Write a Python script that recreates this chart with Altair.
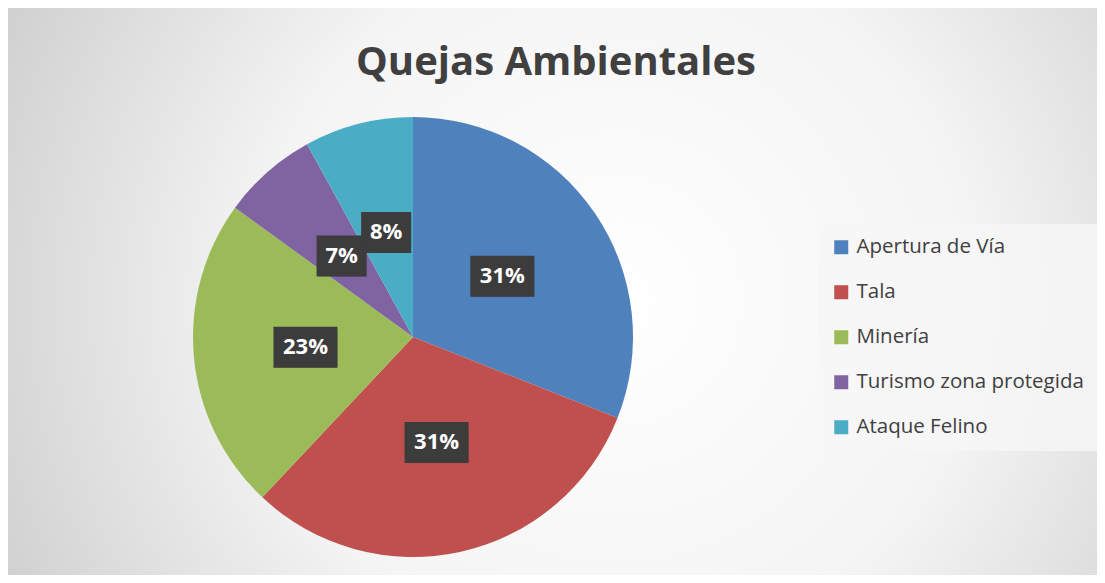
import altair as alt
import pandas as pd

# ---- data ----
categorias = ["Apertura de Vía", "Tala", "Minería", "Turismo zona protegida", "Ataque Felino"]
valores = [31, 31, 23, 7, 8]
colores = ["#4F81BD", "#C0504D", "#9BBB59", "#8064A2", "#4BACC6"]
titulo = "Quejas Ambientales"

df = pd.DataFrame({"categoria": categorias, "valor": valores, "orden": list(range(len(categorias)))})

W, H = 1089, 567
CX, CY = 405, 329
R = 220
RL = 108

gradient = {
    "gradient": "radial",
    "x1": 0.55, "y1": 0.5, "x2": 0.55, "y2": 0.5,
    "r1": 0, "r2": 0.72,
    "stops": [
        {"offset": 0, "color": "#ffffff"},
        {"offset": 0.45, "color": "#f4f4f4"},
        {"offset": 1, "color": "#c2c2c2"},
    ],
}

bg = alt.Chart(pd.DataFrame({"a": [0]})).mark_rect(
    color=gradient, stroke="#cfcfcf", strokeWidth=2
).encode(x=alt.value(-2), x2=alt.value(W + 20), y=alt.value(-2), y2=alt.value(H + 20))

title_mark = alt.Chart(pd.DataFrame({"t": [titulo]})).mark_text(
    font="Open Sans", fontSize=40, fontWeight="bold", color="#404040",
    align="center", baseline="alphabetic",
).encode(text="t:N", x=alt.value(548), y=alt.value(67))

base = alt.Chart(df)

pie = base.mark_arc(outerRadius=R).encode(
    theta=alt.Theta("valor:Q", stack=True),
    color=alt.Color(
        "categoria:N",
        sort=categorias,
        scale=alt.Scale(domain=categorias, range=colores),
        legend=alt.Legend(
            title=None, orient="none", legendX=810, legendY=216, direction="vertical",
            symbolType="square", symbolSize=196, symbolStrokeWidth=0,
            labelFont="Open Sans", labelFontSize=20.5, labelColor="#404040",
            labelOffset=5, rowPadding=24, padding=13, labelLimit=400,
            fillColor="rgba(246,246,246,0.8)",
        ),
    ),
    order=alt.Order("orden:Q"),
    x=alt.value(CX),
    y=alt.value(CY),
)

lab = base.transform_joinaggregate(total="sum(valor)").transform_window(
    cum="sum(valor)", sort=[alt.SortField("orden")], frame=[None, 0]
).transform_calculate(
    mid="(datum.cum - datum.valor/2)/datum.total*2*PI",
    px=f"{CX} + {RL}*sin(datum.mid)",
    py=f"{CY} - {RL}*cos(datum.mid)",
    txt="format(datum.valor/datum.total, '.0%')",
    w="14*length(datum.txt)+22",
    bx1="datum.px - datum.w/2",
    bx2="datum.px + datum.w/2",
    by1="datum.py - 20.5",
    by2="datum.py + 20.5",
)

shadow = lab.mark_rect(color="black", opacity=0.22, xOffset=3, yOffset=4).encode(
    x=alt.X("bx1:Q", scale=None, axis=None), x2="bx2:Q",
    y=alt.Y("by1:Q", scale=None, axis=None), y2="by2:Q",
)
boxes = lab.mark_rect(color="#3c3c3c").encode(
    x=alt.X("bx1:Q", scale=None, axis=None), x2="bx2:Q",
    y=alt.Y("by1:Q", scale=None, axis=None), y2="by2:Q",
)
texts = lab.mark_text(
    color="white", font="Open Sans", fontWeight="bold", fontSize=22, baseline="middle", align="center"
).encode(
    x=alt.X("px:Q", scale=None, axis=None),
    y=alt.Y("py:Q", scale=None, axis=None),
    text="txt:N",
)

chart = alt.layer(bg, title_mark, pie, shadow, boxes, texts).properties(
    width=W, height=H, autosize="none", padding=0,
).configure_view(stroke=None)

chart.save("out.html", embed_options={"renderer": "svg", "actions": False})
